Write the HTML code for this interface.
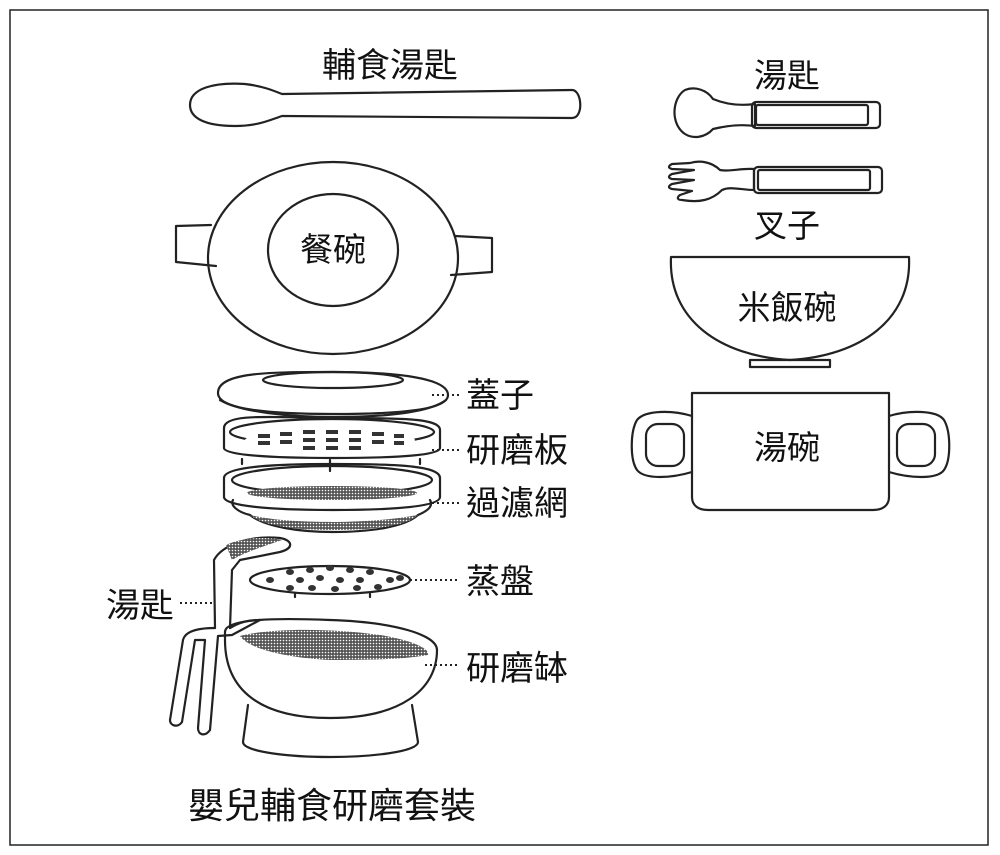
<!DOCTYPE html>
<html><head><meta charset="utf-8"><style>
body{margin:0;background:#fff}
svg{display:block}
text{font-family:"Liberation Sans","Noto Sans CJK TC",sans-serif;fill:#111;font-size:33px}
</style></head><body>
<svg width="1000" height="855" viewBox="0 0 1000 855" xmlns="http://www.w3.org/2000/svg">
<defs>
<pattern id="mesh" width="3" height="3" patternUnits="userSpaceOnUse"><rect width="3" height="3" fill="#555"/><circle cx="1.5" cy="1.5" r="0.8" fill="#fff"/></pattern>
</defs>
<rect x="10" y="10" width="978" height="835" fill="none" stroke="#222" stroke-width="1.5"/>
<g fill="none" stroke="#222" stroke-width="2.2" stroke-linecap="round" stroke-linejoin="round">
<path d="M190 105 C190 88 215 82 245 84 C262 86 272 90 282 94 L572 90 C582 90 584 118 572 118 L282 116 C270 120 258 126 235 126 C205 126 190 118 190 105Z"/>
<path d="M211 225 L176 226 L176 262 L216 266"/>
<path d="M455 236 L492 238 L492 272 L451 275"/>
<ellipse cx="333" cy="258" rx="125" ry="96"/>
<ellipse cx="333" cy="250" rx="65" ry="56"/>
<path d="M713 99 C725 104 740 106 755 104 L755 126 C740 124 725 126 713 129 C705 138 693 139 685 134 C670 124 672 98 685 90 C695 86 707 90 713 99Z"/>
<rect x="752" y="102" width="128" height="26" rx="4"/>
<rect x="756" y="105" width="112" height="20" rx="2"/>
<path d="M754 169 C740 168 730 172 720 170 C712 162 700 160 690 163 L672 164 C668 166 668 168 672 169 L694 170 L672 174 C668 176 668 178 672 179 L694 180 L672 184 C668 186 668 188 672 189 L692 191 L680 195 C676 198 678 200 682 200 C700 203 712 200 722 190 C730 186 742 190 754 190Z"/>
<rect x="754" y="167" width="128" height="26" rx="4"/>
<rect x="758" y="170" width="112" height="20" rx="2"/>
<path d="M671 257 L909 257 C912 320 860 356 790 360 C720 356 668 320 671 257Z"/>
<rect x="750" y="360" width="80" height="7"/>
<path d="M692 393 L889 393 L889 497 C889 506 882 510 873 510 L708 510 C699 510 692 506 692 497Z"/>
<path d="M692 416 C672 410 645 410 637 420 C630 432 630 460 637 470 C645 480 672 478 692 472"/>
<rect x="646" y="424" width="38" height="42" rx="12"/>
<path d="M889 416 C909 410 937 410 944 420 C951 432 951 460 944 470 C937 480 909 478 889 472"/>
<rect x="897" y="424" width="38" height="42" rx="12"/>
<path d="M218 393 C218 372 270 372 333 372 C396 372 448 378 448 395 C448 410 400 414 333 414 C260 414 218 408 218 393Z"/>
<path d="M220 400 C240 412 290 417 333 417 C390 417 430 412 446 400"/>
<ellipse cx="333" cy="380" rx="70" ry="8"/>
<path d="M224 428 C224 412 280 418 333 418 C400 418 440 418 440 430 L440 448 C440 455 400 458 333 458 C270 458 224 455 224 448Z"/>
<ellipse cx="332" cy="432" rx="102" ry="13"/>
<path d="M242 459 L242 464 M420 459 L420 464 M330 460 L330 471"/>
<path d="M224 478 C224 466 280 464 333 464 C400 464 440 466 440 478 L440 497 C440 506 400 510 333 510 C270 510 224 506 224 497Z"/>
<ellipse cx="332" cy="480" rx="100" ry="14"/>
<path d="M233 500 C230 505 237 512 250 515 C265 527 300 532 333 532 C370 532 405 527 418 515 C430 510 433 505 430 500"/>
<ellipse cx="330" cy="580" rx="80" ry="14"/>
<path d="M295 594 L295 597 M370 594 L370 597"/>
<path d="M225 632 C225 618 280 618 330 620 C395 622 437 635 437 650 C437 690 400 718 330 718 C260 718 225 690 225 640Z"/>
<path d="M248 705 L243 742 C243 752 290 757 330 757 C370 757 418 752 418 742 L412 705"/>
<path d="M215 628 L214 560 C222 545 250 535 280 538 C292 540 295 548 280 552 L240 560 L232 570 L230 628"/>
<path d="M230 628 C240 622 248 620 260 620 L232 635 L218 636 L210 730 C205 737 198 735 198 728 L205 640 L195 640 L182 722 C178 728 170 726 170 720 L183 640 C185 632 195 628 215 628"/>
</g>
<ellipse cx="330" cy="440" rx="85" ry="9" fill="#fff"/>
<g fill="#333">
<rect x="258" y="434" width="12" height="4"/><rect x="258" y="441" width="12" height="4"/>
<rect x="280" y="432" width="12" height="4"/><rect x="280" y="440" width="12" height="4"/>
<rect x="303" y="430" width="12" height="4"/><rect x="303" y="438" width="12" height="4"/><rect x="303" y="446" width="12" height="4"/>
<rect x="326" y="430" width="12" height="4"/><rect x="326" y="438" width="12" height="4"/><rect x="326" y="446" width="12" height="4"/>
<rect x="349" y="430" width="12" height="4"/><rect x="349" y="438" width="12" height="4"/><rect x="349" y="446" width="12" height="4"/>
<rect x="372" y="432" width="12" height="4"/><rect x="372" y="440" width="12" height="4"/>
<rect x="394" y="434" width="10" height="4"/><rect x="394" y="441" width="10" height="4"/>
</g>
<ellipse cx="332" cy="493" rx="85" ry="7" fill="url(#mesh)"/>
<path d="M250 515 C265 527 300 530 333 530 C370 530 405 527 418 515 C390 520 360 522 333 522 C300 522 270 520 250 515Z" fill="url(#mesh)"/>
<g fill="#333">
<ellipse cx="290" cy="572" rx="4" ry="3"/><ellipse cx="310" cy="570" rx="4" ry="3"/><ellipse cx="330" cy="568" rx="4" ry="3"/><ellipse cx="350" cy="570" rx="4" ry="3"/><ellipse cx="370" cy="572" rx="4" ry="3"/>
<ellipse cx="270" cy="580" rx="4" ry="3"/><ellipse cx="300" cy="580" rx="4" ry="3"/><ellipse cx="320" cy="578" rx="4" ry="3"/><ellipse cx="340" cy="580" rx="4" ry="3"/><ellipse cx="360" cy="580" rx="4" ry="3"/><ellipse cx="390" cy="580" rx="4" ry="3"/>
<ellipse cx="290" cy="588" rx="4" ry="3"/><ellipse cx="312" cy="588" rx="4" ry="3"/><ellipse cx="335" cy="589" rx="4" ry="3"/><ellipse cx="357" cy="588" rx="4" ry="3"/><ellipse cx="378" cy="587" rx="4" ry="3"/><ellipse cx="400" cy="578" rx="4" ry="3"/>
</g>
<path d="M240 636 C270 628 330 628 380 635 C410 640 430 648 428 655 C400 660 360 660 330 660 C290 658 250 650 240 636Z" fill="url(#mesh)"/>
<path d="M226 545 C240 538 265 536 282 540 C265 546 245 552 232 560Z" fill="url(#mesh)"/>
<g stroke="#222" stroke-width="2" stroke-dasharray="2 3">
<line x1="432" y1="395" x2="460" y2="395"/>
<line x1="432" y1="450" x2="460" y2="450"/>
<line x1="432" y1="503" x2="460" y2="503"/>
<line x1="410" y1="580" x2="460" y2="580"/>
<line x1="425" y1="665" x2="460" y2="665"/>
<line x1="180" y1="603" x2="213" y2="603"/>
</g>
<text x="390" y="77" text-anchor="middle" style="font-size:34px">輔食湯匙</text>
<text x="333" y="261" text-anchor="middle">餐碗</text>
<text x="787" y="87" text-anchor="middle">湯匙</text>
<text x="787" y="237" text-anchor="middle">叉子</text>
<text x="787" y="319" text-anchor="middle">米飯碗</text>
<text x="787" y="459" text-anchor="middle">湯碗</text>
<text x="466" y="407" style="font-size:34px">蓋子</text>
<text x="466" y="462" style="font-size:34px">研磨板</text>
<text x="466" y="515" style="font-size:34px">過濾網</text>
<text x="466" y="593" style="font-size:34px">蒸盤</text>
<text x="466" y="680" style="font-size:34px">研磨缽</text>
<text x="106" y="617" style="font-size:34px">湯匙</text>
<text x="188" y="818" style="font-size:36px">嬰兒輔食研磨套裝</text>
</svg>
</body></html>
